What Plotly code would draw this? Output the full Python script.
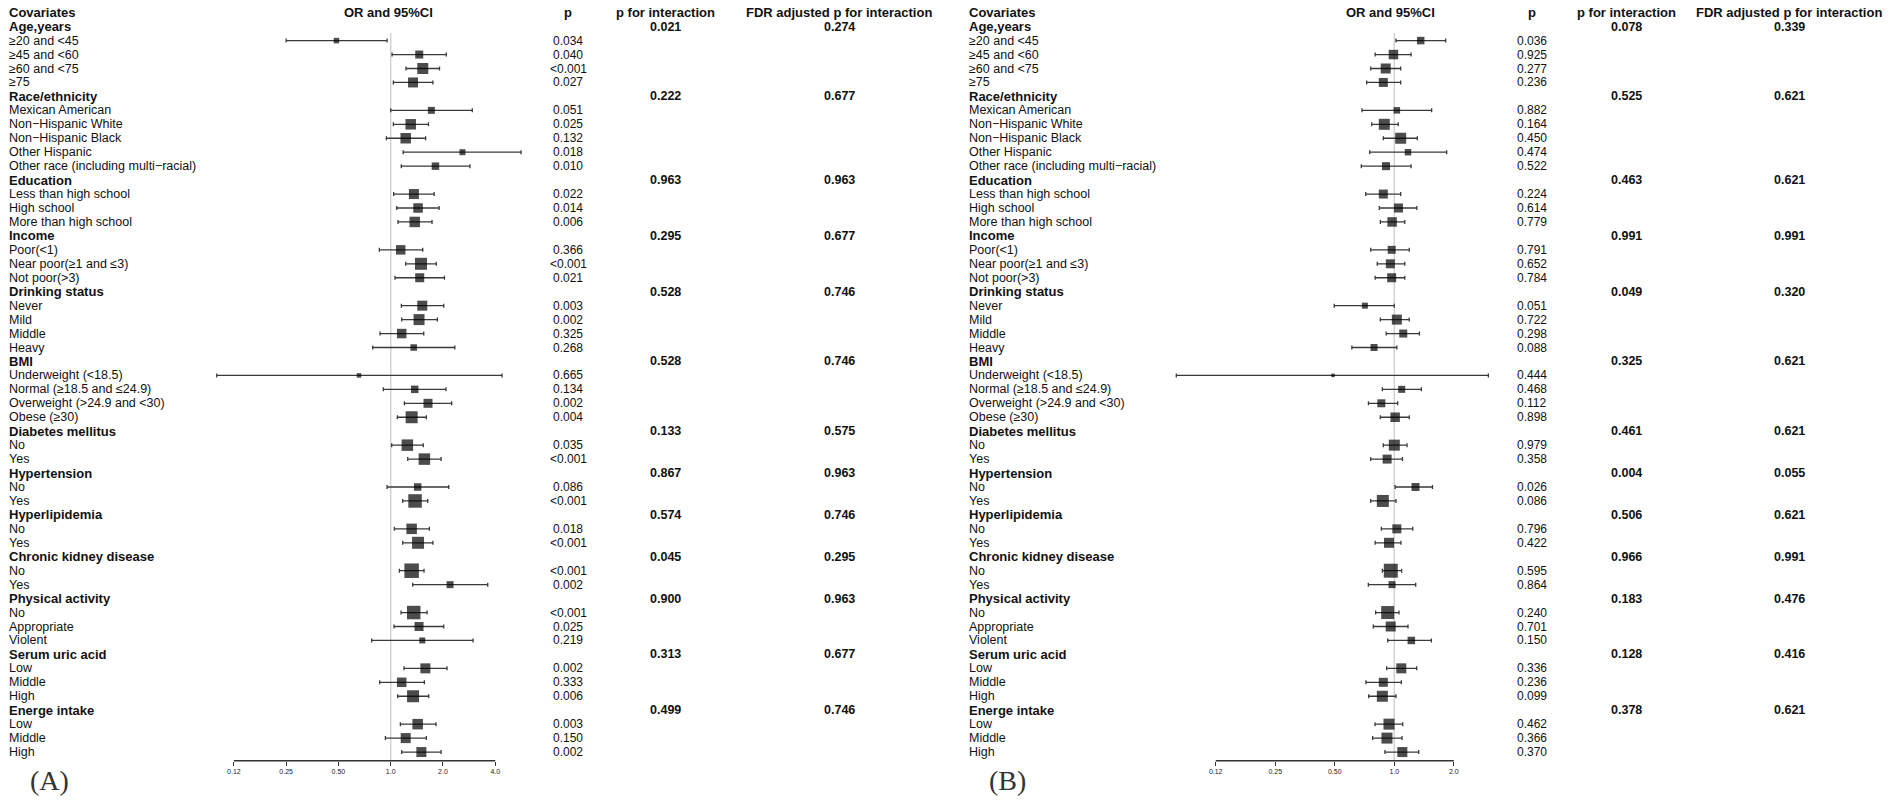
import plotly.graph_objects as go

# ---------------- data ----------------
groups = ["Age,years", "Race/ethnicity", "Education", "Income", "Drinking status", "BMI",
          "Diabetes mellitus", "Hypertension", "Hyperlipidemia", "Chronic kidney disease",
          "Physical activity", "Serum uric acid", "Energe intake"]
items = [
    ["≥20 and &lt;45", "≥45 and &lt;60", "≥60 and &lt;75", "≥75"],
    ["Mexican American", "Non−Hispanic White", "Non−Hispanic Black", "Other Hispanic",
     "Other race (including multi−racial)"],
    ["Less than high school", "High school", "More than high school"],
    ["Poor(&lt;1)", "Near poor(≥1 and ≤3)", "Not poor(&gt;3)"],
    ["Never", "Mild", "Middle", "Heavy"],
    ["Underweight (&lt;18.5)", "Normal (≥18.5 and ≤24.9)", "Overweight (&gt;24.9 and &lt;30)", "Obese (≥30)"],
    ["No", "Yes"],
    ["No", "Yes"],
    ["No", "Yes"],
    ["No", "Yes"],
    ["No", "Appropriate", "Violent"],
    ["Low", "Middle", "High"],
    ["Low", "Middle", "High"],
]

# Panel A
or_A = [0.487, 1.46, 1.53, 1.345,
        1.715, 1.304, 1.22, 2.59, 1.81,
        1.36, 1.437, 1.375,
        1.142, 1.495, 1.469,
        1.52, 1.456, 1.157, 1.357,
        0.657, 1.375, 1.64, 1.32,
        1.247, 1.563,
        1.43, 1.381,
        1.32, 1.437,
        1.32, 2.197,
        1.357, 1.456, 1.52,
        1.584, 1.157, 1.345,
        1.43, 1.22, 1.502]
lo_A = [0.25, 1.018, 1.225, 1.036,
        1.0, 1.036, 0.944, 1.18, 1.15,
        1.04, 1.083, 1.102,
        0.86, 1.22, 1.059,
        1.152, 1.157, 0.868, 0.788,
        0.0996, 0.907, 1.199, 1.092,
        1.013, 1.253,
        0.953, 1.173,
        1.05, 1.173,
        1.122, 1.339,
        1.147, 1.045, 0.777,
        1.193, 0.864, 1.097,
        1.137, 0.932, 1.157]
hi_A = [0.953, 2.09, 1.91, 1.75,
        2.95, 1.65, 1.59, 5.63, 2.86,
        1.78, 1.90, 1.73,
        1.53, 1.83, 2.04,
        2.02, 1.857, 1.55, 2.34,
        4.38, 2.08, 2.245, 1.605,
        1.54, 1.95,
        2.16, 1.634,
        1.67, 1.75,
        1.556, 3.62,
        1.62, 2.02, 2.98,
        2.11, 1.563, 1.655,
        1.824, 1.605, 1.95]
box_A = [5.5, 8, 11, 10,
         7, 10.5, 10.5, 6, 7.5,
         10, 9.5, 10.5,
         9.5, 12, 9,
         10, 11, 9.5, 6.5,
         4.5, 7.5, 9, 12,
         11.5, 11.5,
         7.5, 13.5,
         10.5, 12,
         14.5, 7,
         13.5, 9, 6,
         10, 9.5, 12,
         10.5, 10, 10]
p_A = ["0.034", "0.040", "&lt;0.001", "0.027",
       "0.051", "0.025", "0.132", "0.018", "0.010",
       "0.022", "0.014", "0.006",
       "0.366", "&lt;0.001", "0.021",
       "0.003", "0.002", "0.325", "0.268",
       "0.665", "0.134", "0.002", "0.004",
       "0.035", "&lt;0.001",
       "0.086", "&lt;0.001",
       "0.018", "&lt;0.001",
       "&lt;0.001", "0.002",
       "&lt;0.001", "0.025", "0.219",
       "0.002", "0.333", "0.006",
       "0.003", "0.150", "0.002"]
pint_A = ["0.021", "0.222", "0.963", "0.295", "0.528", "0.528", "0.133", "0.867", "0.574",
          "0.045", "0.900", "0.313", "0.499"]
fdr_A = ["0.274", "0.677", "0.963", "0.677", "0.746", "0.746", "0.575", "0.963", "0.746",
         "0.295", "0.963", "0.677", "0.746"]

# Panel B
or_B = [1.36, 0.99, 0.905, 0.88,
        1.03, 0.89, 1.077, 1.173, 0.908,
        0.88, 1.05, 0.975,
        0.97, 0.955, 0.97,
        0.71, 1.03, 1.11, 0.79,
        0.49, 1.09, 0.86, 1.01,
        1.0, 0.92,
        1.28, 0.875,
        1.03, 0.94,
        0.96, 0.974,
        0.926, 0.959, 1.219,
        1.085, 0.88, 0.87,
        0.94, 0.918, 1.098]
lo_B = [1.02, 0.80, 0.76, 0.725,
        0.686, 0.769, 0.88, 0.751, 0.681,
        0.717, 0.84, 0.85,
        0.76, 0.82, 0.80,
        0.497, 0.85, 0.91, 0.61,
        0.079, 0.87, 0.74, 0.85,
        0.88, 0.76,
        1.01, 0.76,
        0.86, 0.80,
        0.87, 0.739,
        0.805, 0.783, 0.926,
        0.915, 0.719, 0.742,
        0.799, 0.777, 0.897]
hi_B = [1.82, 1.215, 1.077, 1.077,
        1.545, 1.047, 1.307, 1.84, 1.215,
        1.077, 1.30, 1.13,
        1.19, 1.13, 1.13,
        1.0, 1.19, 1.34, 1.03,
        2.99, 1.37, 1.04, 1.19,
        1.16, 1.10,
        1.56, 1.02,
        1.24, 1.08,
        1.09, 1.283,
        1.056, 1.173, 1.54,
        1.298, 1.085, 1.02,
        1.103, 1.094, 1.328]
box_B = [7.5, 9.5, 10, 9,
         6.5, 11, 11, 6.5, 8,
         9, 9, 9.5,
         8, 9, 9,
         6, 10, 8, 7,
         3.5, 7, 8, 9.5,
         11, 9,
         8, 12,
         9, 10,
         14, 7,
         13, 10, 7.5,
         10, 9, 11,
         11, 11, 10]
p_B = ["0.036", "0.925", "0.277", "0.236",
       "0.882", "0.164", "0.450", "0.474", "0.522",
       "0.224", "0.614", "0.779",
       "0.791", "0.652", "0.784",
       "0.051", "0.722", "0.298", "0.088",
       "0.444", "0.468", "0.112", "0.898",
       "0.979", "0.358",
       "0.026", "0.086",
       "0.796", "0.422",
       "0.595", "0.864",
       "0.240", "0.701", "0.150",
       "0.336", "0.236", "0.099",
       "0.462", "0.366", "0.370"]
pint_B = ["0.078", "0.525", "0.463", "0.991", "0.049", "0.325", "0.461", "0.004", "0.506",
          "0.966", "0.183", "0.128", "0.378"]
fdr_B = ["0.339", "0.621", "0.621", "0.991", "0.320", "0.621", "0.621", "0.055", "0.621",
         "0.991", "0.476", "0.416", "0.621"]

tick_vals = [0.125, 0.25, 0.5, 1.0, 2.0, 4.0]
tick_text = ["0.12", "0.25", "0.50", "1.0", "2.0", "4.0"]

# ---------------- layout helpers ----------------
W, H = 1902, 801
ROW0_PX, PITCH = 12.7, 13.95
FONT = "Liberation Sans, Arial, sans-serif"
TXT = "#111111"

def px(x):
    return x / W

# row index of each group header and each item
group_rows, item_rows = [], []
r = 2
for g, its in zip(groups, items):
    group_rows.append(r)
    r += 1
    for _ in its:
        item_rows.append(r)
        r += 1
y_top = 1 - ROW0_PX / PITCH
y_bot = 1 + (H - ROW0_PX) / PITCH
axis_row = 1 + (760.7 - ROW0_PX) / PITCH
axis_pos = 1 - 760.7 / H
vline_top = 1 + (33 - ROW0_PX) / PITCH

panels = [
    dict(xa="x", key="xaxis", o=or_A, lo=lo_A, hi=hi_A, box=box_A, p=p_A, pint=pint_A, fdr=fdr_A,
         one_px=390.7, dec_px=173.64, dom=(200, 540), nt=6,
         lab_x=6.7, or_x=388, p_x=568.2, pi_x=665.5, fdr_x=839.3, tag="(A)", tag_x=49.7),
    dict(xa="x2", key="xaxis2", o=or_B, lo=lo_B, hi=hi_B, box=box_B, p=p_B, pint=pint_B, fdr=fdr_B,
         one_px=1394.3, dec_px=197.76, dom=(1160, 1500), nt=5,
         lab_x=967.3, or_x=1390, p_x=1531.7, pi_x=1626.2, fdr_x=1789.3, tag="(B)", tag_x=1007.7),
]

fig = go.Figure()
annotations = []

def ann(x, y, text, size, bold=False, anchor="left", yref="y", family=FONT, color=TXT):
    annotations.append(dict(
        x=px(x), y=y, xref="paper", yref=yref, text=f"<b>{text}</b>" if bold else text,
        showarrow=False, xanchor=anchor, yanchor="middle",
        font=dict(family=family, size=size, color=color)))

layout_axes = {}
flat_items = [it for its in items for it in its]
for P in panels:
    # reference line at OR = 1
    fig.add_trace(go.Scatter(x=[1, 1], y=[vline_top, axis_row], mode="lines",
                             line=dict(color="#d2d2d2", width=1.5), xaxis=P["xa"], yaxis="y",
                             hoverinfo="skip"))
    # x-axis baseline
    fig.add_trace(go.Scatter(x=[tick_vals[0], tick_vals[P["nt"] - 1]], y=[axis_row, axis_row],
                             mode="lines", line=dict(color="#333333", width=1.4),
                             xaxis=P["xa"], yaxis="y", hoverinfo="skip"))
    # estimates with CI
    fig.add_trace(go.Scatter(
        x=P["o"], y=item_rows, mode="markers", xaxis=P["xa"], yaxis="y",
        marker=dict(symbol="square", size=P["box"], color="black", line=dict(width=0)),
        error_x=dict(type="data", symmetric=False,
                     array=[h - o for h, o in zip(P["hi"], P["o"])],
                     arrayminus=[o - l for o, l in zip(P["o"], P["lo"])],
                     color="#3a3a3a", thickness=1.3, width=2)))

    lo_l = (P["dom"][0] - P["one_px"]) / P["dec_px"]
    hi_l = (P["dom"][1] - P["one_px"]) / P["dec_px"]
    layout_axes[P["key"]] = dict(
        type="log", domain=[px(P["dom"][0]), px(P["dom"][1])], range=[lo_l, hi_l],
        tickvals=tick_vals[:P["nt"]], ticktext=tick_text[:P["nt"]],
        ticks="outside", ticklen=4, tickwidth=1.3, tickcolor="#333333",
        tickfont=dict(family=FONT, size=7, color="#222222"),
        showgrid=False, zeroline=False, showline=False,
        anchor="free", position=axis_pos, fixedrange=True)

    # headers
    ann(P["lab_x"], 1, "Covariates", 13, bold=True)
    ann(P["or_x"], 1, "OR and 95%CI", 13, bold=True, anchor="center")
    ann(P["p_x"], 1, "p", 13, bold=True, anchor="center")
    ann(P["pi_x"], 1, "p for interaction", 13, bold=True, anchor="center")
    ann(P["fdr_x"], 1, "FDR adjusted p for interaction", 13, bold=True, anchor="center")
    # group rows
    for g, gr, pi, fd in zip(groups, group_rows, P["pint"], P["fdr"]):
        ann(P["lab_x"], gr, g, 13, bold=True)
        ann(P["pi_x"], gr, pi, 12.5, bold=True, anchor="center")
        ann(P["fdr_x"], gr, fd, 12.5, bold=True, anchor="center")
    # item rows
    for it, ir, pv in zip(flat_items, item_rows, P["p"]):
        ann(P["lab_x"], ir, it, 12.5)
        ann(P["p_x"], ir, pv, 12, anchor="center")
    # panel tag
    ann(P["tag_x"], 1 - 780 / H, P["tag"], 28, anchor="center", yref="paper",
        family="Liberation Serif, Times New Roman, serif", color="#333333")

fig.update_layout(
    width=W, height=H, margin=dict(l=0, r=0, t=0, b=0),
    paper_bgcolor="white", plot_bgcolor="white", showlegend=False,
    yaxis=dict(range=[y_bot, y_top], domain=[0, 1], visible=False, fixedrange=True),
    annotations=annotations,
    **layout_axes,
)

fig.write_html("out.html", config={"displayModeBar": False},
               post_script="document.body.style.margin='0';document.body.style.overflow='hidden';")
